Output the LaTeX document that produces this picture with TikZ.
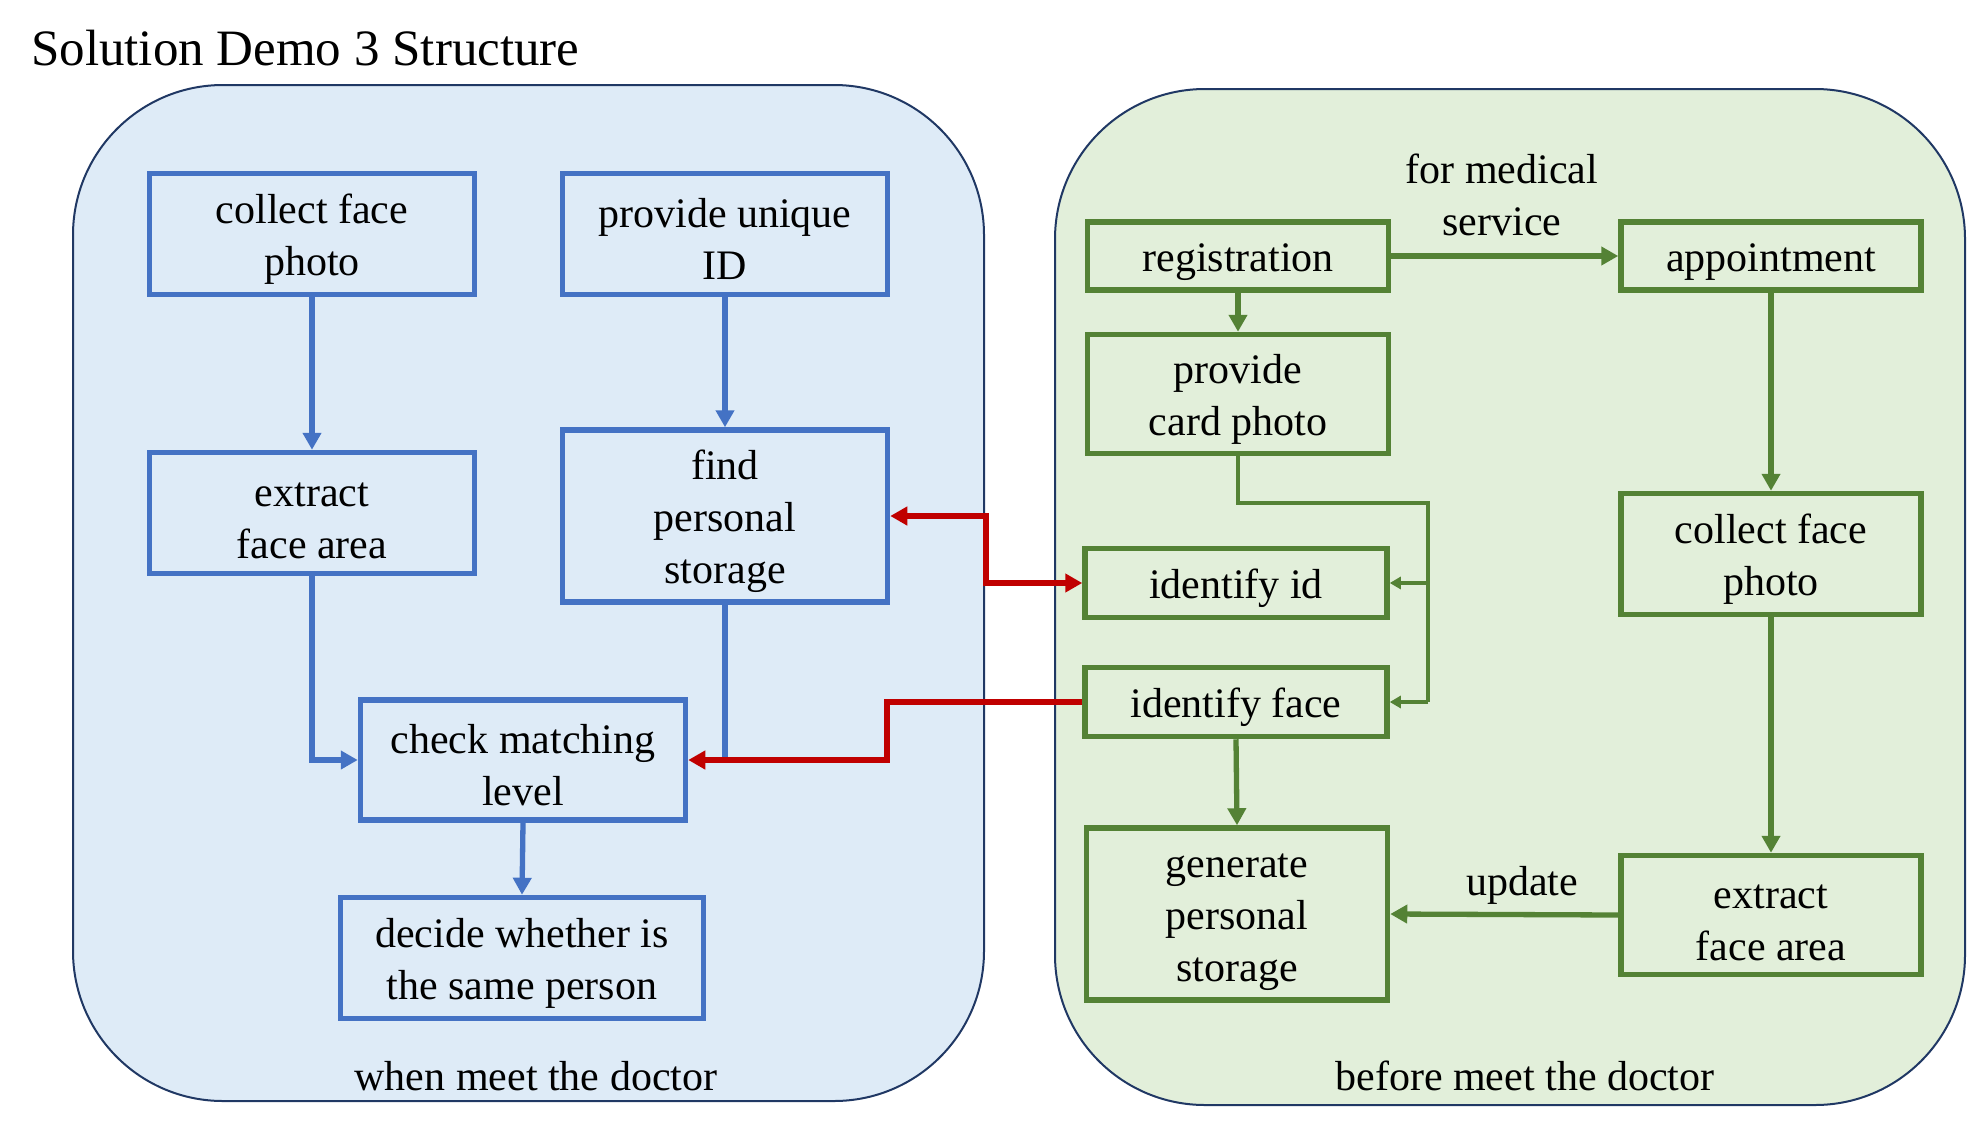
\documentclass[tikz,border=0pt]{standalone}
\usepackage{fontspec}
\setmainfont{Liberation Serif}
\usetikzlibrary{arrows.meta}
\definecolor{cblue}{HTML}{4472C4}
\definecolor{cgreen}{HTML}{548235}
\definecolor{cred}{HTML}{C00000}
\definecolor{cnavy}{HTML}{203864}
\definecolor{bluefill}{HTML}{DEEBF7}
\definecolor{greenfill}{HTML}{E2EFDA}
\newcommand\bxs{\rule{0pt}{40pt}}
\begin{document}
\begin{tikzpicture}[x=1pt,y=-1pt,
  txt/.style={font=\fontsize{42}{52}\selectfont, align=center, inner sep=0pt},
  bbox/.style={txt, draw=cblue, line width=5.5pt},
  gbox/.style={txt, draw=cgreen, line width=5.5pt},
  panel/.style={draw=cnavy, line width=2pt, rounded corners=150pt},
  tip/.style={-{Triangle[length=17pt,width=18pt]}},
  barrow/.style={draw=cblue, line width=5.3pt, tip},
  garrow/.style={draw=cgreen, line width=5.3pt, tip},
  gthin/.style={draw=cgreen, line width=3.3pt},
  rline/.style={draw=cred, line width=6pt}
]
\useasboundingbox (0,0) rectangle (1967,1125);
\node[anchor=base west, inner sep=0pt, font=\fontsize{51}{60}\selectfont] (title) at (31,65) {Solution Demo 3 Structure};

% panels
\draw[panel, fill=bluefill] (73,85) rectangle (984,1101);
\draw[panel, fill=greenfill] (1055,89) rectangle (1965,1105);
\node[txt] (lblL) at (536,1076) {when meet the doctor};
\node[txt] (lblR) at (1525,1076) {before meet the doctor};

% left boxes
\node[bbox, minimum width=325, minimum height=121] (cfp) at (312,234) {\bxs collect face\\photo};
\node[bbox, minimum width=325, minimum height=121] (pui) at (725,234) {\bxs provide unique\\ID};
\node[bbox, minimum width=325, minimum height=121] (efa) at (312,513) {\bxs extract\\face area};
\node[bbox, minimum width=325, minimum height=172] (fps) at (725,516) {\bxs find\\personal\\storage};
\node[bbox, minimum width=325, minimum height=120] (cml) at (523,760) {\bxs check matching\\level};
\node[bbox, minimum width=363, minimum height=121] (dws) at (522,958) {\bxs decide whether is\\the same person};

% right boxes
\node[gbox, minimum width=301, minimum height=68] (reg) at (1238,256) {\bxs registration};
\node[gbox, minimum width=300, minimum height=68] (app) at (1771,256) {\bxs appointment};
\node[gbox, minimum width=301, minimum height=119] (pcp) at (1238,394) {\bxs provide\\card photo};
\node[gbox, minimum width=302, minimum height=69] (iid) at (1236,583) {\bxs identify id};
\node[gbox, minimum width=302, minimum height=69] (ifc) at (1236,702) {\bxs identify face};
\node[gbox, minimum width=301, minimum height=172] (gps) at (1237,914) {\bxs generate\\personal\\storage};
\node[gbox, minimum width=300, minimum height=121] (cfp2) at (1771,554) {\bxs collect face\\photo};
\node[gbox, minimum width=300, minimum height=119] (efa2) at (1771,915) {\bxs extract\\face area};

% labels
\node[txt] (lmed) at (1502,195) {for medical\\service};
\node[txt] (lupd) at (1522,885) {update};

% blue connectors
\draw[barrow] (cfp.south) -- (efa.north);
\draw[barrow] (pui.south) -- (fps.north);
\draw[barrow] (efa.south) |- (cml.west);
\draw[draw=cblue, line width=5.3pt] (fps.south) -- (fps.south |- cml.east);
\draw[barrow] (cml.south) -- (dws.north);

% red connectors
\coordinate (r1) at (986,0);
\coordinate (r2) at (887,0);
\draw[rline, {Triangle[length=17pt,width=18pt]}-{Triangle[length=17pt,width=18pt]}]
  (fps.east) -- (fps.east -| r1) -- (r1 |- iid.west) -- (iid.west);
\draw[rline, -{Triangle[length=17pt,width=18pt]}]
  (ifc.west) -- (ifc.west -| r2) -- (r2 |- cml.east) -- (cml.east);

% green connectors
\draw[garrow] (reg.east) -- (app.west);
\draw[garrow] (reg.south) -- (pcp.north);
\draw[garrow] (app.south) -- (cfp2.north);
\draw[garrow] (cfp2.south) -- (efa2.north);
\draw[garrow] (efa2.west) -- (gps.east);
\draw[garrow] (ifc.south) -- (gps.north);
\coordinate (gx) at (1428,0);
\coordinate (gy) at (0,503);
\draw[gthin] (pcp.south) -- (pcp.south |- gy) -- (gx |- gy) -- (gx |- ifc.east);
\draw[gthin, -{Triangle[length=11pt,width=12pt]}] (gx |- iid.east) -- (iid.east);
\draw[gthin, -{Triangle[length=11pt,width=12pt]}] (gx |- ifc.east) -- (ifc.east);
\end{tikzpicture}
\end{document}
